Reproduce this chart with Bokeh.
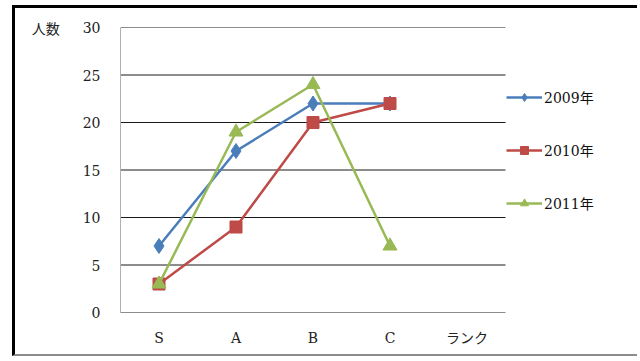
from bokeh.plotting import figure
from bokeh.models import (ColumnDataSource, Legend, LegendItem, FixedTicker, Range1d)
from bokeh.embed import file_html
from bokeh.resources import INLINE

categories = ["S", "A", "B", "C", "ランク"]
ranks = ["S", "A", "B", "C"]
y2009 = [7, 17, 22, 22]
y2010 = [3, 9, 20, 22]
y2011 = [3, 19, 24, 7]
series_names = ["2009年", "2010年", "2011年"]
colors = ["#4A7EBB", "#BE4B48", "#98B954"]
markers = ["diamond", "square", "triangle"]
y_ticks = [0, 5, 10, 15, 20, 25, 30]
y_title = "人数"

SERIF = "DejaVu Serif, Noto Sans CJK JP"

n_cat = len(categories)
cat_pos = [i + 0.5 for i in range(n_cat)]
pos_of = dict(zip(categories, cat_pos))

# plot area: 385 px for the 5 categories, the rest of the frame holds the legend
FRAME_W = 625 - 105
x_end = n_cat * FRAME_W / 385.0

p = figure(width=625, height=351, x_range=Range1d(0, x_end), y_range=(0, 30),
           output_backend="svg", toolbar_location=None,
           min_border_left=105, min_border_right=0,
           min_border_top=19, min_border_bottom=47)
p.styles = {"position": "absolute", "left": "12px", "top": "5px",
            "border-left": "3px solid black", "border-top": "3px solid black",
            "border-bottom": "2px solid #8C8C8C"}
p.outline_line_color = None
p.background_fill_color = "white"
p.border_fill_color = "white"

# horizontal gridlines over the category span only
p.xgrid.grid_line_color = None
p.ygrid.grid_line_color = None
gy = y_ticks[1:]
p.segment(x0=[0] * len(gy), x1=[n_cat] * len(gy), y0=gy, y1=gy,
          line_color="#1a1a1a", line_width=1)

items = []
sizes = {"diamond": 15, "square": 12, "triangle": 14}
for name, ys, c, m in zip(series_names, [y2009, y2010, y2011], colors, markers):
    src = ColumnDataSource(dict(x=[pos_of[r] for r in ranks], y=ys))
    r1 = p.line("x", "y", source=src, line_color=c, line_width=2.5)
    r2 = p.scatter("x", "y", source=src, marker=m, size=sizes[m], fill_color=c,
                   line_color=c)
    items.append(LegendItem(label=name, renderers=[r1, r2]))

legend = Legend(items=items, location=(386, 99), orientation="vertical",
                glyph_width=36, glyph_height=20, label_height=20, spacing=33,
                label_standoff=2,
                label_text_font=SERIF, label_text_font_size="14px",
                label_text_color="#111111",
                border_line_color=None, background_fill_alpha=0,
                padding=0, margin=0)
p.add_layout(legend)

p.yaxis.ticker = FixedTicker(ticks=y_ticks)
p.yaxis.axis_line_color = "#B0B0B0"
p.yaxis.major_tick_line_color = None
p.yaxis.minor_tick_line_color = None
p.yaxis.major_tick_out = 0
p.yaxis.major_tick_in = 0
p.yaxis.major_label_standoff = 20
p.yaxis.major_label_text_font = SERIF
p.yaxis.major_label_text_font_size = "14px"
p.yaxis.major_label_text_color = "#222222"
p.yaxis.axis_label = y_title
p.yaxis.axis_label_orientation = "horizontal"
p.yaxis.axis_label_align = "end"
p.yaxis.axis_label_standoff = 20
p.yaxis.axis_label_text_font = "Noto Sans CJK JP"
p.yaxis.axis_label_text_font_style = "normal"
p.yaxis.axis_label_text_font_size = "14px"
p.yaxis.axis_label_text_color = "#222222"

p.xaxis.ticker = FixedTicker(ticks=cat_pos)
p.xaxis.major_label_overrides = {pos: cat for pos, cat in zip(cat_pos, categories)}
p.xaxis.bounds = (0, n_cat)
p.xaxis.axis_line_color = "#8C8C8C"
p.xaxis.major_tick_line_color = None
p.xaxis.minor_tick_line_color = None
p.xaxis.major_tick_out = 0
p.xaxis.major_tick_in = 0
p.xaxis.major_label_standoff = 17
p.xaxis.major_label_text_font = SERIF
p.xaxis.major_label_text_font_size = "14px"
p.xaxis.major_label_text_color = "#222222"

open("out.html", "w").write(file_html(p, INLINE))
